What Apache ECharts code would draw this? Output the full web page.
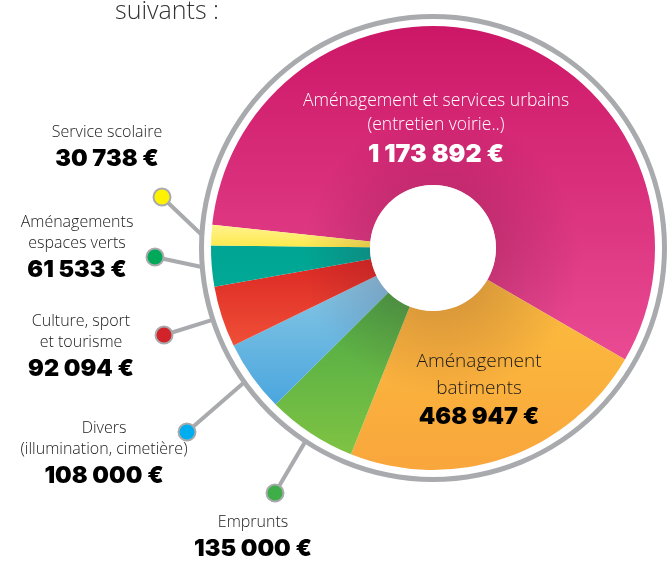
<!DOCTYPE html>
<html>
<head>
<meta charset="utf-8">
<script src="https://cdn.jsdelivr.net/npm/echarts@6/dist/echarts.min.js"></script>
<style>
  html, body { margin: 0; background: #fff; }
  #chart { width: 670px; height: 562px; }
</style>
</head>
<body>
<div id="chart"></div>
<script>
// données (ordre horaire à partir de la tranche rose)
const categories = [
  'Aménagement et services urbains\n(entretien voirie..)',
  'Aménagement\nbatiments',
  'Emprunts',
  'Divers\n(illumination, cimetière)',
  'Culture, sport\net tourisme',
  'Aménagements\nespaces verts',
  'Service scolaire',
]
const values = [1173892, 468947, 135000, 108000, 92094, 61533, 30738]

// styles / placement
const sliceColors = [
  ['#cc1767', '#e94b93'],
  ['#fcbe3e', '#f9a63c'],
  ['#4aa946', '#7fc343'],
  ['#8ac8e4', '#4aa6de'],
  ['#dc2824', '#ef4f37'],
  ['#00a593', '#00a895'],
  ['#fff38f', '#fde94a'],
]
const dotColors = [null, null, '#3fae49', '#00aeef', '#d2232a', '#00a85a', '#fff200']
const labelPos = [[436, 130], [479, 390], [253, 538], [104, 455], [81, 348], [77, 249], [107, 148]]
const dotPos = [null, null, [275, 493], [187, 432], [164, 335], [155, 257], [162, 197]]

const CENTER = [433, 248]
const NAME_FONT = 'Open Sans'
const VALUE_FONT = 'Inter'

function euro(v) {
  return String(v).replace(/\B(?=(\d{3})+(?!\d))/g, ' ') + ' €'
}

const data = values.map((v, i) => ({
  name: categories[i],
  value: v,
  itemStyle: {
    color: new echarts.graphic.LinearGradient(0, 0, 0, 1, [
      { offset: 0, color: sliceColors[i][0] },
      { offset: 1, color: sliceColors[i][1] },
    ]),
  },
}))

const dotData = values.map((v, i) => ({
  name: categories[i],
  value: v,
  label: dotColors[i]
    ? { show: true, rich: { d: { width: 15, height: 15, borderRadius: 9, backgroundColor: dotColors[i], borderColor: '#a9aaad', borderWidth: 2 } } }
    : { show: false },
  labelLine: { show: !!dotColors[i] },
}))

function formatLabel(p) {
  const i = p.dataIndex
  const suffix = i === 0 ? 'w' : i === 1 ? 'b' : ''
  const lines = p.name.split('\n').map((l) => `{n${suffix}|${l}}`)
  return lines.join('\n') + `\n{v${suffix}|${euro(p.value)}}`
}

const nameStyle = { fontFamily: NAME_FONT, fontWeight: 300, fontSize: 16, lineHeight: 21, color: '#1a1a1a' }
const valueStyle = { fontFamily: VALUE_FONT, fontWeight: 900, fontSize: 23.5, lineHeight: 32, color: '#000' }

let option = {
  animation: false,
  title: {
    text: 'suivants :',
    left: 110,
    top: -6,
    textStyle: { fontFamily: NAME_FONT, fontWeight: 300, fontSize: 25, color: '#333' },
  },
  series: [
    {
      // anneau gris extérieur
      type: 'pie',
      silent: true,
      center: CENTER,
      radius: [229, 234],
      label: { show: false },
      itemStyle: { color: '#a9aaad' },
      data: [1],
    },
    {
      type: 'pie',
      center: CENTER,
      radius: [63, 222],
      startAngle: 174,
      clockwise: true,
      avoidLabelOverlap: false,
      silent: true,
      data: data,
      label: {
        show: true,
        position: 'outside',
        formatter: formatLabel,
        align: 'center',
        rich: {
          n: nameStyle,
          v: valueStyle,
          nw: Object.assign({}, nameStyle, { color: '#fff', fontSize: 17.5, lineHeight: 24 }),
          vw: Object.assign({}, valueStyle, { color: '#fff', fontSize: 25, lineHeight: 34 }),
          nb: Object.assign({}, nameStyle, { fontSize: 19, lineHeight: 27 }),
          vb: Object.assign({}, valueStyle, { fontSize: 23.5, lineHeight: 30 }),
        },
      },
      labelLine: { show: false },
      labelLayout: (p) => ({
        x: labelPos[p.dataIndex][0],
        y: labelPos[p.dataIndex][1],
        align: 'center',
        verticalAlign: 'middle',
      }),
    },
    {
      // ombre autour du trou
      type: 'pie',
      silent: true,
      center: [442, 255],
      radius: [50, 140],
      label: { show: false },
      itemStyle: {
        color: new echarts.graphic.RadialGradient(0.5, 0.5, 0.5, [
          { offset: 0.35, color: 'rgba(80,10,40,0.2)' },
          { offset: 1, color: 'rgba(80,10,40,0)' },
        ]),
      },
      data: [1],
    },
    {
      // trou blanc
      type: 'pie',
      silent: true,
      center: CENTER,
      radius: [0, 63],
      label: { show: false },
      itemStyle: { color: '#fff' },
      data: [1],
    },
    {
      // pastilles + traits
      type: 'pie',
      silent: true,
      center: CENTER,
      radius: [0, 232],
      startAngle: 174,
      clockwise: true,
      avoidLabelOverlap: false,
      itemStyle: { color: 'rgba(0,0,0,0)' },
      data: dotData,
      label: { position: 'outside', formatter: '{d|}' },
      labelLine: { length: 0, length2: 0, lineStyle: { color: '#a9aaad', width: 4 } },
      labelLayout: (p) => {
        const pos = dotPos[p.dataIndex]
        if (!pos) return {}
        const start = p.labelLinePoints ? p.labelLinePoints[0] : pos
        return {
          x: pos[0],
          y: pos[1],
          align: 'center',
          verticalAlign: 'middle',
          labelLinePoints: [start, pos, pos],
        }
      },
    },
  ],
}

const dom = document.getElementById('chart')
const chart = echarts.init(dom)
chart.setOption(option)
window.addEventListener('resize', () => chart.resize())
</script>
</body>
</html>
